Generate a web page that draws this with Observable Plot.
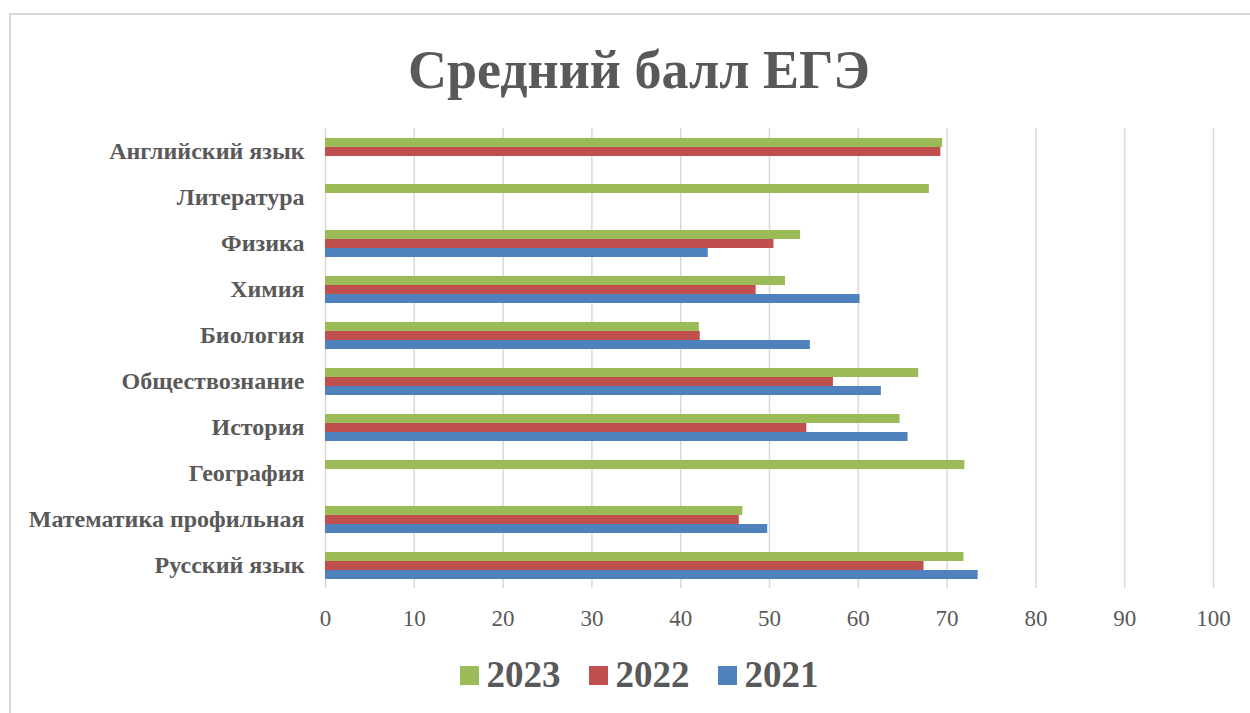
<!DOCTYPE html>
<html>
<head>
<meta charset="utf-8">
<script src="https://cdn.jsdelivr.net/npm/d3@7"></script>
<script src="https://cdn.jsdelivr.net/npm/@observablehq/plot@0.6"></script>
<style>
  html, body { margin: 0; padding: 0; background: #fff; overflow: hidden; }
  #page { position: relative; width: 1250px; height: 713px; overflow: hidden; font-family: "Liberation Serif", "Times New Roman", serif; }
  #frame { position: absolute; left: 9px; top: 13px; width: 1280px; height: 740px; border: 2px solid #d9d9d9; box-sizing: border-box; }
  #title { position: absolute; left: 9px; width: 1260px; top: 43px; text-align: center; font-size: 54px; line-height: 54px; font-weight: bold; color: #595959; white-space: nowrap; }
  #chart { position: absolute; left: 0; top: 118px; }
  #legend { position: absolute; left: 9px; width: 1260px; top: 655px; height: 40px; display: flex; justify-content: center; align-items: center; }
  .item { display: flex; align-items: center; margin: 0 14px; }
  .swatch { width: 19px; height: 19px; margin-right: 8px; }
  .lab { font-size: 37px; font-weight: bold; color: #595959; line-height: 40px; }
</style>
</head>
<body>
<div id="page">
  <div id="frame"></div>
  <div id="title">Средний балл ЕГЭ</div>
  <div id="chart"></div>
  <div id="legend"></div>
</div>
<script>
const subjects = ["Английский язык", "Литература", "Физика", "Химия", "Биология", "Обществознание", "История", "География", "Математика профильная", "Русский язык"];
const years = ["2023", "2022", "2021"];
const colors = ["#9BBB59", "#C0504D", "#4F81BD"];
const scores2023 = [69.5, 68.0, 53.5, 51.8, 42.1, 66.8, 64.7, 72.0, 47.0, 71.9];
const scores2022 = [69.3, null, 50.5, 48.5, 42.2, 57.2, 54.2, null, 46.6, 67.4];
const scores2021 = [null, null, 43.1, 60.2, 54.6, 62.6, 65.6, null, 49.8, 73.5];
const xTicks = [0, 10, 20, 30, 40, 50, 60, 70, 80, 90, 100];

const series = [scores2023, scores2022, scores2021];
const data = [];
subjects.forEach((s, i) => {
  years.forEach((y, j) => {
    const v = series[j][i];
    if (v != null) data.push({subject: s, year: y, score: v});
  });
});

const chart = Plot.plot({
  width: 1250,
  height: 520,
  marginTop: 10,
  marginBottom: 50,
  marginLeft: 325,
  marginRight: 37,
  style: {fontFamily: "'Liberation Serif', 'Times New Roman', serif", background: "transparent", overflow: "visible"},
  x: {domain: [0, 100], label: null},
  y: {domain: years, paddingInner: 0, paddingOuter: 0.92, axis: null},
  fy: {domain: subjects, padding: 0, axis: null, label: null},
  color: {domain: years, range: colors},
  marks: [
    Plot.ruleX(xTicks, {x: d => d, stroke: "#d9d9d9", strokeWidth: 1.5}),
    Plot.barX(data, {fy: "subject", y: "year", x: "score", fill: "year"}),
    Plot.axisX({ticks: xTicks, tickSize: 0, tickPadding: 21, fontSize: 23, color: "#595959", label: null}),
    Plot.axisFy({anchor: "left", tickSize: 0, tickPadding: 21, fontSize: 24, fontWeight: "bold", color: "#595959", label: null})
  ]
});
document.getElementById("chart").appendChild(chart);

const legend = document.getElementById("legend");
years.forEach((y, j) => {
  const item = document.createElement("div");
  item.className = "item";
  const sw = document.createElement("div");
  sw.className = "swatch";
  sw.style.background = colors[j];
  const lab = document.createElement("span");
  lab.className = "lab";
  lab.textContent = y;
  item.appendChild(sw);
  item.appendChild(lab);
  legend.appendChild(item);
});
</script>
</body>
</html>
